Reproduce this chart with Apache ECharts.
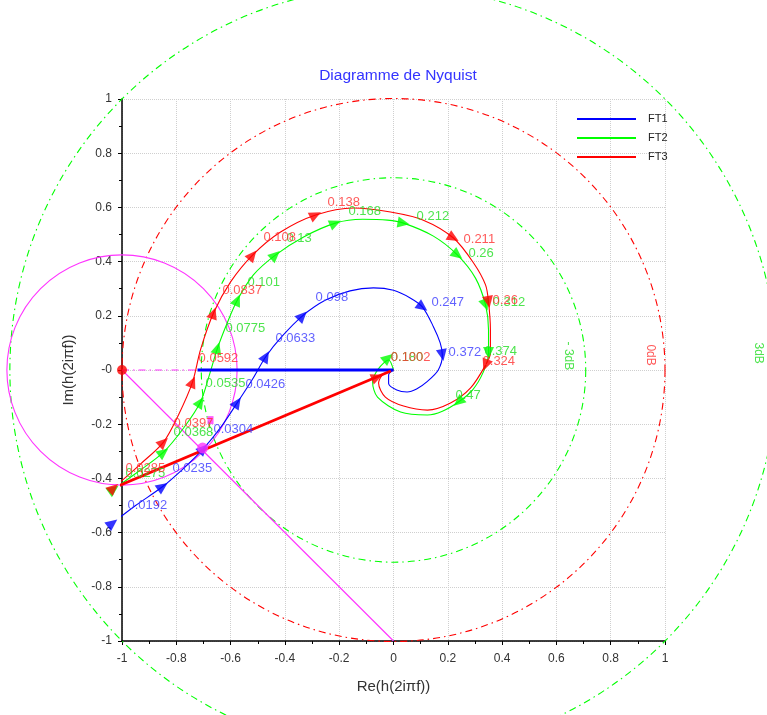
<!DOCTYPE html>
<html><head><meta charset="utf-8">
<script src="https://cdn.jsdelivr.net/npm/echarts@6/dist/echarts.min.js"></script>
<style>html,body{margin:0;padding:0;background:#fff}#c{width:767px;height:715px}</style>
</head><body><div id="c"></div>
<script>
// ---------- data ----------
const titleText = 'Diagramme de Nyquist';
const seriesNames = ['FT1', 'FT2', 'FT3'];

const ft1Curve = [[-1.035,-0.565],[-0.95,-0.50],[-0.85,-0.43],[-0.77,-0.36],[-0.70,-0.29],[-0.635,-0.21],[-0.575,-0.12],[-0.52,-0.035],[-0.47,0.05],[-0.41,0.125],[-0.335,0.20],[-0.25,0.258],[-0.16,0.292],[-0.074,0.303],[0.0,0.294],[0.063,0.265],[0.107,0.232],[0.147,0.16],[0.172,0.10],[0.18,0.055],[0.165,0.0],[0.125,-0.042],[0.085,-0.07],[0.05,-0.081],[0.012,-0.074],[-0.018,-0.05],[-0.018,-0.018],[0,0]];
const ft2Curve = [[-1.031,-0.44],[-0.932,-0.369],[-0.847,-0.303],[-0.773,-0.214],[-0.711,-0.118],[-0.678,-0.018],[-0.648,0.081],[-0.611,0.177],[-0.575,0.258],[-0.516,0.351],[-0.435,0.424],[-0.331,0.491],[-0.214,0.542],[-0.114,0.556],[-0.022,0.553],[0.037,0.542],[0.147,0.494],[0.236,0.424],[0.302,0.339],[0.339,0.240],[0.350,0.148],[0.350,0.063],[0.331,-0.007],[0.291,-0.074],[0.239,-0.118],[0.18,-0.152],[0.125,-0.166],[0.026,-0.155],[-0.059,-0.100],[-0.077,-0.044],[-0.055,0.005],[-0.018,0.037],[0,0]];
const ft3Curve = [[-1.031,-0.435],[-0.932,-0.347],[-0.847,-0.266],[-0.792,-0.166],[-0.740,-0.044],[-0.711,0.074],[-0.663,0.210],[-0.600,0.325],[-0.519,0.424],[-0.416,0.509],[-0.287,0.572],[-0.147,0.598],[-0.011,0.583],[0.110,0.553],[0.221,0.487],[0.295,0.395],[0.339,0.314],[0.350,0.251],[0.357,0.148],[0.357,0.063],[0.339,0.018],[0.284,-0.066],[0.210,-0.122],[0.125,-0.148],[0.037,-0.133],[-0.030,-0.100],[-0.055,-0.048],[-0.040,-0.018],[0,0]];

const ft1Arrows = [[-1.035,-0.565],[-0.85,-0.43],[-0.70,-0.29],[-0.575,-0.12],[-0.47,0.05],[-0.335,0.20],[0.107,0.232],[0.18,0.055]];
const ft2Arrows = [[-1.031,-0.44],[-0.847,-0.303],[-0.711,-0.118],[-0.648,0.081],[-0.575,0.258],[-0.435,0.424],[-0.214,0.542],[0.037,0.542],[0.236,0.424],[0.339,0.240],[0.350,0.063],[0.239,-0.118],[-0.02,0.045]];
const ft3Arrows = [[-1.031,-0.435],[-0.847,-0.266],[-0.740,-0.044],[-0.663,0.210],[-0.519,0.424],[-0.287,0.572],[0.221,0.487],[0.350,0.251],[0.339,0.018]];

const ft1Labels = [['0.0192',-0.98,-0.498],['0.0235',-0.814,-0.362],['0.0304',-0.663,-0.218],['0.0426',-0.545,-0.052],['0.0633',-0.435,0.118],['0.098',-0.287,0.269],['0.247',0.14,0.251],['0.372',0.203,0.066]];
const ft2Labels = [['0.0275',-0.987,-0.38],['0.0368',-0.81,-0.232],['0.0535',-0.692,-0.048],['0.0775',-0.619,0.155],['0.101',-0.538,0.325],['0.13',-0.394,0.487],['0.168',-0.166,0.587],['0.212',0.085,0.568],['0.26',0.276,0.432],['0.312',0.365,0.251],['0.374',0.335,0.07],['0.47',0.228,-0.092],['0.180',-0.01,0.048]];
const ft3Labels = [['0.0285',-0.987,-0.362],['0.0397',-0.81,-0.196],['0.0592',-0.718,0.041],['0.0837',-0.63,0.292],['0.108',-0.479,0.491],['0.138',-0.243,0.62],['0.211',0.258,0.48],['0.26',0.365,0.258],['0.324',0.328,0.03],['0.1002',-0.01,0.048]];

// gain circles [centreRe, centreIm, radius]
const circle0dB = [0, 0, 1];
const circleM3dB = [0, 0, 0.708];
const circleP3dB = [0, 0, 1.413];
const modulusCircle = [-1, 0, 0.424];
const dbLabels = [['- 3dB', 0.645, 0.052, '#22dd22'], ['0dB', 0.947, 0.055, '#ff3030'], ['3dB', 1.345, 0.062, '#22dd22']];

const magentaLine = [[-1, 0], [0, -1]];
const magentaDash = [[-1, 0], [-0.722, 0]];
const blueVector = [[-0.722, 0], [0, 0]];
const redVector = [[-1.031, -0.435], [-0.01, -0.004]];
const redVectorArrow = [[-0.06, -0.026]];
const criticalPoint = [-1, 0];
const modulusPoint = [-0.703, -0.288];
const magentaMark = [-0.674, -0.185];

// ---------- chart ----------
const FONT = 'Liberation Sans, Arial, sans-serif';
const BLUE = '#0000ff', GREEN = '#00ff00', RED = '#ff0000', MAG = '#ff33ff';
const DASHDOT = [7, 4, 1.5, 4];

function dirDeg(p, line) {
  let best = 1e9, dir = [1, 0];
  for (let i = 0; i < line.length - 1; i++) {
    const a = line[i], b = line[i + 1];
    const dx = b[0] - a[0], dy = b[1] - a[1];
    const L2 = dx * dx + dy * dy;
    if (!L2) continue;
    let t = ((p[0] - a[0]) * dx + (p[1] - a[1]) * dy) / L2;
    t = Math.max(0, Math.min(1, t));
    const qx = a[0] + t * dx - p[0], qy = a[1] + t * dy - p[1];
    const d = qx * qx + qy * qy;
    if (d < best - 1e-12) { best = d; dir = [dx, dy]; }
  }
  return Math.atan2(dir[1], dir[0]) * 180 / Math.PI - 90;
}
function arrowSeries(pts, line, color, name) {
  return {
    name: name, type: 'scatter', symbol: 'triangle', symbolSize: [11, 12], silent: true, z: 5, clip: false,
    itemStyle: { color: color },
    data: pts.map(p => ({ value: p, symbolRotate: dirDeg(p, line) }))
  };
}
function labelSeries(labels, color, name) {
  return {
    name: name, type: 'scatter', symbolSize: 0, silent: true, z: 8, clip: false,
    label: { show: true, position: 'right', distance: 0, formatter: p => p.name, color: color, fontSize: 13, fontFamily: FONT },
    data: labels.map(l => ({ name: l[0], value: [l[1], l[2]] }))
  };
}
function circleSeries(c, color, dash, name) {
  return {
    name: name, type: 'custom', silent: true, z: 1, clip: false,
    renderItem: (params, api) => {
      const ctr = api.coord([api.value(0), api.value(1)]);
      const r = api.size([api.value(2), 0])[0];
      return { type: 'circle', shape: { cx: ctr[0], cy: ctr[1], r: r },
        style: { fill: 'none', stroke: color, lineWidth: 1.1, lineDash: dash } };
    },
    encode: { x: 0, y: 1 },
    data: [c]
  };
}
function lineSeries(pts, color, width, name, dash, z) {
  return {
    name: name, type: 'line', data: pts, showSymbol: false, symbol: 'none', silent: true, clip: false, z: z || 3,
    lineStyle: { color: color, width: width, type: dash || 'solid' }, itemStyle: { color: color }
  };
}
const fmt = v => { const r = Math.round(v * 10) / 10; return String(r); };

const option = {
  animation: false,
  backgroundColor: '#fff',
  title: { text: titleText, left: 393, top: 63, textAlign: 'center',
    textStyle: { color: '#3333ff', fontSize: 15.5, fontWeight: 'normal', fontFamily: FONT } },
  legend: {
    data: seriesNames, orient: 'vertical', left: 577, top: 113, itemWidth: 59, itemHeight: 2, icon: 'rect',
    itemGap: 7, padding: 0,
    textStyle: { color: '#222', fontSize: 11, fontFamily: FONT, lineHeight: 12, padding: [0, 0, 0, 7] }
  },
  grid: { left: 122, right: 102, top: 99, bottom: 74, containLabel: false },
  xAxis: {
    type: 'value', min: -1, max: 1, interval: 0.2,
    name: 'Re(h(2iπf))', nameLocation: 'middle', nameGap: 38,
    nameTextStyle: { color: '#333', fontSize: 15, fontFamily: FONT },
    axisLine: { show: true, onZero: false, lineStyle: { color: '#000', width: 1.5 } },
    axisTick: { show: true, length: 4, lineStyle: { color: '#000' } },
    minorTick: { show: true, splitNumber: 2, length: 3, lineStyle: { color: '#000' } },
    splitLine: { show: true, lineStyle: { color: '#cfcfcf', type: 'dotted', width: 1 } },
    axisLabel: { formatter: fmt, color: '#333', fontSize: 12, fontFamily: FONT, margin: 12 }
  },
  yAxis: {
    type: 'value', min: -1, max: 1, interval: 0.2,
    name: 'Im(h(2iπf))', nameLocation: 'middle', nameGap: 46, nameRotate: 90,
    nameTextStyle: { color: '#333', fontSize: 15, fontFamily: FONT },
    axisLine: { show: true, onZero: false, lineStyle: { color: '#000', width: 1.5 } },
    axisTick: { show: true, length: 4, lineStyle: { color: '#000' } },
    minorTick: { show: true, splitNumber: 2, length: 3, lineStyle: { color: '#000' } },
    splitLine: { show: true, lineStyle: { color: '#cfcfcf', type: 'dotted', width: 1 } },
    axisLabel: { formatter: v => (Math.abs(v) < 1e-9 ? '-0' : fmt(v)), color: '#333', fontSize: 12, fontFamily: FONT, margin: 10 }
  },
  series: [
    circleSeries(circle0dB, RED, DASHDOT, 'c0'),
    circleSeries(circleM3dB, GREEN, DASHDOT, 'cm3'),
    circleSeries(circleP3dB, GREEN, DASHDOT, 'cp3'),
    circleSeries(modulusCircle, MAG, null, 'cmod'),
    lineSeries(magentaLine, MAG, 1.1, 'mline'),
    lineSeries(magentaDash, MAG, 1.2, 'mdash', DASHDOT),
    Object.assign(lineSeries(ft1Curve, BLUE, 1.1, 'FT1', null, 4), { smooth: 0.3 }),
    Object.assign(lineSeries(ft2Curve, GREEN, 1.1, 'FT2', null, 4), { smooth: 0.3 }),
    Object.assign(lineSeries(ft3Curve, RED, 1.1, 'FT3', null, 4), { smooth: 0.3 }),
    lineSeries(blueVector, BLUE, 2.8, 'bvec', null, 4),
    lineSeries(redVector, RED, 2.8, 'rvec', null, 4),
    arrowSeries(ft1Arrows, ft1Curve, BLUE, 'a1'),
    arrowSeries(ft2Arrows, ft2Curve, GREEN, 'a2'),
    arrowSeries(ft3Arrows, ft3Curve, RED, 'a3'),
    arrowSeries(redVectorArrow, redVector, RED, 'a4'),
    { name: 'crit', type: 'scatter', symbol: 'circle', symbolSize: 10, silent: true, z: 6, clip: false,
      itemStyle: { color: RED }, data: [criticalPoint] },
    { name: 'modp', type: 'scatter', symbol: 'circle', symbolSize: 11, silent: true, z: 6, clip: false,
      itemStyle: { color: MAG }, data: [modulusPoint] },
    { name: 'modm', type: 'scatter', symbol: 'rect', symbolSize: [6, 8], silent: true, z: 6, clip: false,
      itemStyle: { color: MAG }, data: [magentaMark] },
    labelSeries(ft1Labels, '#3a3aff', 'l1'),
    labelSeries(ft2Labels, '#22dd22', 'l2'),
    labelSeries(ft3Labels, '#ff3030', 'l3'),
    { name: 'dbl', type: 'scatter', symbolSize: 0, silent: true, z: 8, clip: false,
      label: { show: true, position: 'inside', rotate: -90, formatter: p => p.name, fontSize: 12, fontFamily: FONT },
      data: dbLabels.map(d => ({ name: d[0], value: [d[1], d[2]], label: { color: d[3] } })) }
  ]
};
const chart = echarts.init(document.getElementById('c'));
chart.setOption(option);
</script></body></html>
